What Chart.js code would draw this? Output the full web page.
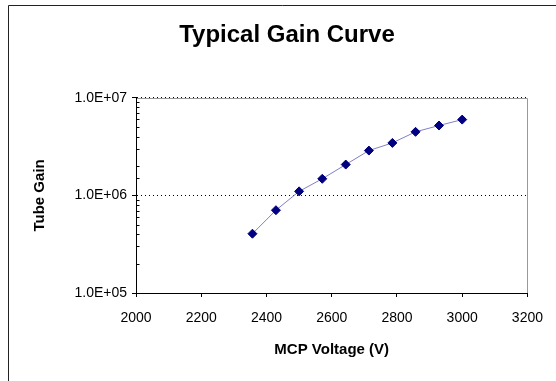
<!DOCTYPE html>
<html>
<head>
<meta charset="utf-8">
<script src="https://cdn.jsdelivr.net/npm/chart.js@4"></script>
<style>
    body { margin: 0; background: #fff; overflow: hidden; }
    canvas { display: block; }
</style>
</head>
<body>
<canvas id="gainChart" width="556" height="381"></canvas>
<script>
// data
const mcpVoltage = [2357, 2429, 2500, 2571, 2643, 2714, 2786, 2857, 2929, 3000];
const tubeGain = [4.05e5, 7.05e5, 1.1e6, 1.48e6, 2.07e6, 2.88e6, 3.45e6, 4.48e6, 5.2e6, 5.98e6];
const xMin = 2000;
const xMax = 3200;
const xStep = 200;
const yMin = 1e5;
const yMax = 1e7;

const isDecade = (v) => Math.abs(Math.log10(v) - Math.round(Math.log10(v))) < 1e-9;

const sciLabel = (v) => {
    let parts = v.toExponential(1).split("e");
    let exp = parts[1];
    return parts[0] + "E" + exp[0] + exp.slice(1).padStart(2, "0");
};

// frame + plot border + inner minor ticks
const decorPlugin = {
    id: "decor",
    beforeDraw(chart) {
        const ctx = chart.ctx;
        const a = chart.chartArea;
        ctx.save();
        ctx.fillStyle = "#fff";
        ctx.fillRect(0, 0, chart.width, chart.height);
        ctx.strokeStyle = "#222";
        ctx.lineWidth = 1;
        ctx.beginPath();
        ctx.moveTo(8.5, chart.height);
        ctx.lineTo(8.5, 5.5);
        ctx.lineTo(chart.width, 5.5);
        ctx.stroke();

        ctx.strokeStyle = "#999";
        ctx.beginPath();
        ctx.moveTo(a.left, Math.round(a.top) + 0.5);
        ctx.lineTo(Math.round(a.right) + 0.5, Math.round(a.top) + 0.5);
        ctx.lineTo(Math.round(a.right) + 0.5, a.bottom);
        ctx.stroke();
        ctx.restore();
    },
    afterDatasetsDraw(chart) {
        const ctx = chart.ctx;
        const y = chart.scales.y;
        const left = Math.round(chart.chartArea.left) + 0.5;
        ctx.save();
        ctx.strokeStyle = "#000";
        ctx.lineWidth = 1;
        y.ticks.forEach((t) => {
            if (isDecade(t.value)) return;
            const py = Math.round(y.getPixelForValue(t.value)) + 0.5;
            ctx.beginPath();
            ctx.moveTo(left, py);
            ctx.lineTo(left + 3, py);
            ctx.stroke();
        });
        ctx.restore();
    },
};

const ctx = document.getElementById("gainChart").getContext("2d");

window.gainChart = new Chart(ctx, {
    type: "scatter",
    data: {
        datasets: [
            {
                label: "Tube Gain",
                data: mcpVoltage.map((v, i) => ({ x: v, y: tubeGain[i] })),
                showLine: true,
                borderColor: "#8080c8",
                borderWidth: 1,
                pointStyle: "rectRot",
                pointRadius: 4.5,
                pointBorderWidth: 1,
                pointBackgroundColor: "#000080",
                pointBorderColor: "#000080",
                tension: 0,
            },
        ],
    },
    options: {
        responsive: false,
        animation: false,
        layout: {
            padding: { left: 43, right: 25, top: 0, bottom: 0 },
        },
        scales: {
            x: {
                type: "linear",
                min: xMin,
                max: xMax,
                afterFit: (scale) => { scale.height = 88; },
                grid: {
                    drawOnChartArea: false,
                    drawTicks: true,
                    tickLength: 4,
                    tickColor: "#000",
                },
                border: { color: "#000", width: 1 },
                ticks: {
                    stepSize: xStep,
                    maxRotation: 0,
                    padding: 13,
                    color: "#000",
                    font: { family: "Arial, 'Liberation Sans'", size: 14 },
                    callback: (value) => String(value),
                },
                title: {
                    display: true,
                    text: "MCP Voltage (V)",
                    color: "#000",
                    padding: { top: 0, bottom: 22 },
                    font: { family: "Arial, 'Liberation Sans'", size: 15, weight: "bold" },
                },
            },
            y: {
                type: "logarithmic",
                min: yMin,
                max: yMax,
                afterFit: (scale) => { scale.width = 93; },
                grid: {
                    color: (c) => (c.tick && isDecade(c.tick.value) && c.tick.value > yMin ? "#000" : "rgba(0,0,0,0)"),
                    tickColor: (c) => (c.tick && isDecade(c.tick.value) ? "#000" : "rgba(0,0,0,0)"),
                    tickLength: 4,
                    lineWidth: 1,
                },
                border: { color: "#000", width: 1, dash: [1, 3] },
                ticks: {
                    autoSkip: false,
                    padding: 5,
                    color: "#000",
                    font: { family: "Arial, 'Liberation Sans'", size: 14 },
                    callback: (value) => (isDecade(value) ? sciLabel(value) : ""),
                },
                title: {
                    display: true,
                    text: "Tube Gain",
                    color: "#000",
                    padding: { top: -12, bottom: 0 },
                    font: { family: "Arial, 'Liberation Sans'", size: 15, weight: "bold" },
                },
            },
        },
        plugins: {
            legend: { display: false },
            tooltip: { enabled: false },
            title: {
                display: true,
                text: "Typical Gain Curve",
                color: "#000",
                padding: { top: 21, bottom: 48 },
                font: { family: "Arial, 'Liberation Sans'", size: 24, weight: "bold" },
            },
        },
    },
    plugins: [decorPlugin],
});
</script>
</body>
</html>
